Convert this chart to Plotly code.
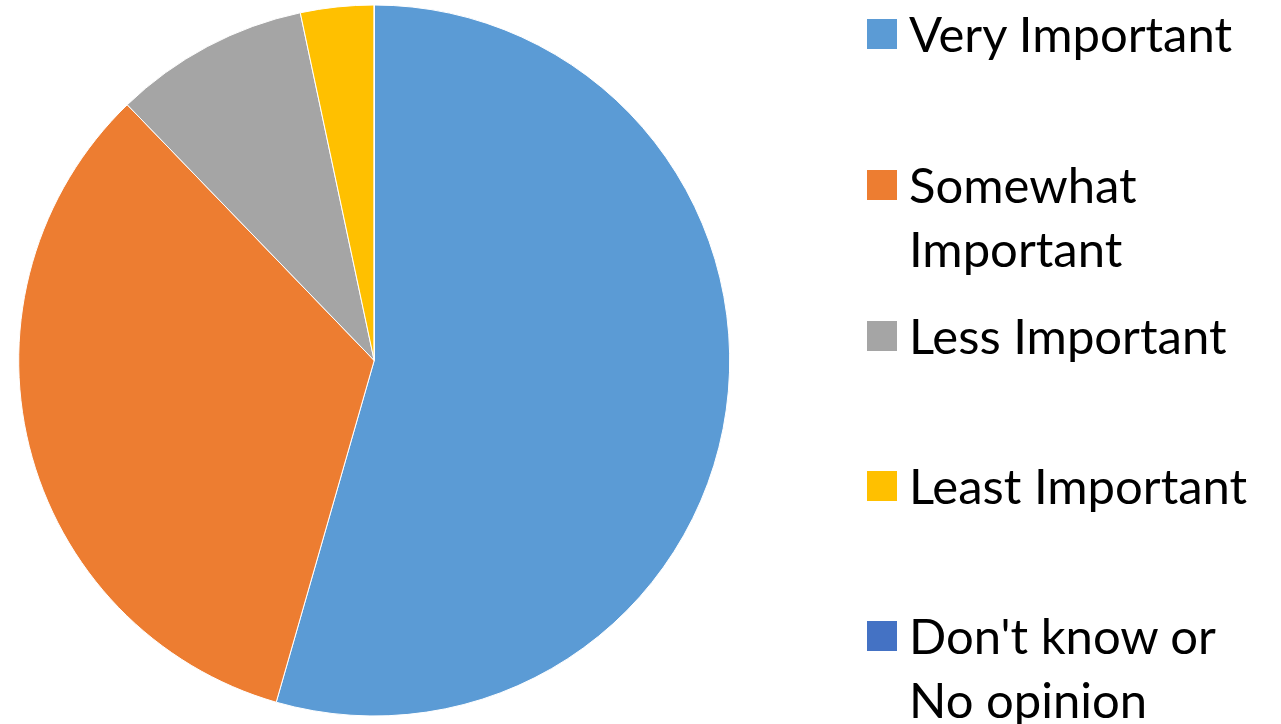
import plotly.graph_objects as go

labels = ["Very Important", "Somewhat Important", "Less Important", "Least Important", "Don't know or No opinion"]
legend_text = ["Very Important", "Somewhat<br>Important", "Less Important", "Least Important", "Don't know or<br>No opinion"]
values = [49, 30, 8, 3, 0]
colors = ["#5B9BD5", "#ED7D31", "#A5A5A5", "#FFC000", "#4472C4"]

W, H = 1281, 724
FONT = "Lato"
FSIZE = 49

fig = go.Figure()
fig.add_trace(go.Pie(
    labels=labels, values=values, sort=False, direction="clockwise", rotation=0,
    marker=dict(colors=colors, line=dict(color="white", width=1)),
    textinfo="none", hoverinfo="label+value+percent", showlegend=False,
    domain=dict(x=[(374.2 - 355.5) / W, (374.2 + 355.5) / W],
                y=[(H - 360.5 - 355.5) / H, (H - 360.5 + 355.5) / H]),
))

# legend drawn as real text + colour squares
item_y = [34, 185, 336, 486, 636]
for txt, col, py in zip(legend_text, colors, item_y):
    fig.add_shape(type="rect", xref="paper", yref="paper",
                  x0=867 / W, x1=897 / W, y0=1 - (py + 15) / H, y1=1 - (py - 15) / H,
                  fillcolor=col, line=dict(width=0))
    fig.add_annotation(xref="paper", yref="paper", x=907 / W, y=1 - (py - 32) / H,
                       xanchor="left", yanchor="top", align="left", showarrow=False,
                       text=txt, font=dict(family=FONT, size=FSIZE, color="black"))

fig.update_layout(width=W, height=H, margin=dict(l=0, r=0, t=0, b=0),
                  paper_bgcolor="white", plot_bgcolor="white")
fig.write_html("out.html")
